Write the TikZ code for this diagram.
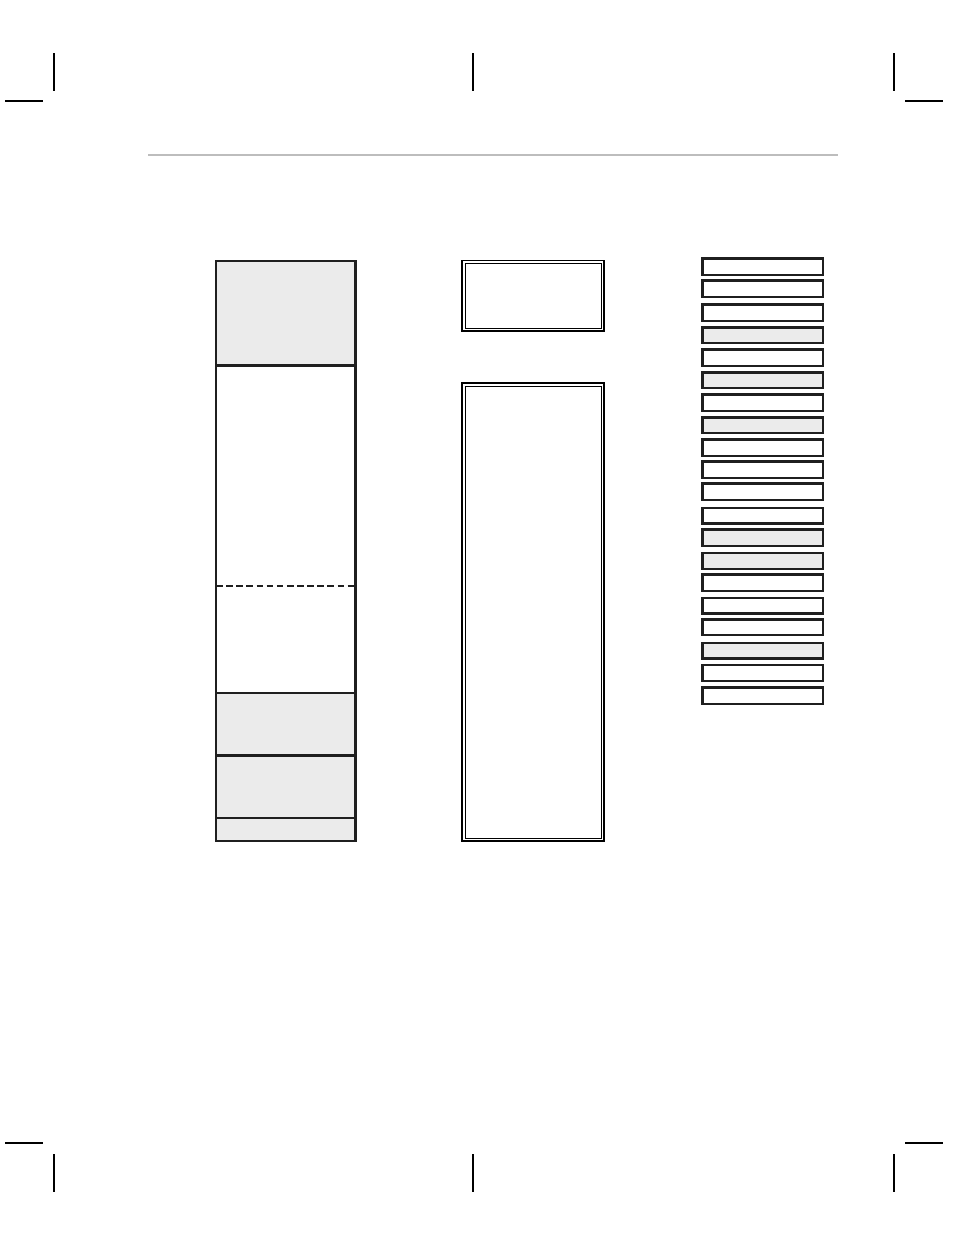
\documentclass[tikz,border=0pt]{standalone}
\usepackage{tikz}
\definecolor{panelgray}{gray}{0.92}
\definecolor{rulegray}{gray}{0.74}
\tikzset{cell/.style={line width=2pt,draw=black!88},
  slot/.style={line width=2pt,draw=black!88},
  slotgray/.style={slot,fill=panelgray},
  frame/.style={line width=1.3pt},
  crop/.style={line width=0.8pt}}

\begin{document}
\begin{tikzpicture}[x=0.75pt,y=-0.75pt,line cap=butt]
  \useasboundingbox (0,0) rectangle (954,1235);

  % crop marks
  \draw [crop] (54,53) -- (54,91);
  \draw [crop] (473,53) -- (473,91);
  \draw [crop] (894,53) -- (894,91);
  \draw [crop] (5,101) -- (43,101);
  \draw [crop] (905,101) -- (943,101);
  \draw [crop] (5,1143) -- (43,1143);
  \draw [crop] (905,1143) -- (943,1143);
  \draw [crop] (54,1154) -- (54,1192);
  \draw [crop] (473,1154) -- (473,1192);
  \draw [crop] (894,1154) -- (894,1192);

  \draw [rulegray, line width=2.2pt] (148,155) -- (838,155);


  % left column
  \fill [panelgray] (216,261) rectangle (355,365);
  \fill [panelgray] (216,693) rectangle (355,841);
  \draw [cell] (216,261) rectangle (355.5,841);
  \draw [cell] (216,365.5) -- (355.5,365.5);
  \draw [cell, line width=1.5pt, dash pattern=on 5pt off 2.6pt] (216,586) -- (355.5,586);
  \draw [cell, line width=1.6pt] (216,693) -- (355.5,693);
  \draw [cell] (216,755.5) -- (355.5,755.5);
  \draw [cell, line width=1.6pt] (216,818) -- (355.5,818);


  % middle frames
  \draw [frame] (462,260.5) rectangle (604,331);
  \draw [thin] (465,263.5) rectangle (601,328);
  \draw [frame] (462,383) rectangle (604,841);
  \draw [thin] (465,386) rectangle (601,838);


  % right stack
  \draw [slot] (702.5,258.5) rectangle (823,275);
  \draw [slot] (702.5,280.5) rectangle (823,297);
  \draw [slot] (702.5,304.5) rectangle (823,321);
  \draw [slotgray] (702.5,327.5) rectangle (823,343);
  \draw [slot] (702.5,349.5) rectangle (823,366);
  \draw [slotgray] (702.5,372.5) rectangle (823,388);
  \draw [slot] (702.5,394.5) rectangle (823,411);
  \draw [slotgray] (702.5,417.5) rectangle (823,433);
  \draw [slot] (702.5,439.5) rectangle (823,456);
  \draw [slot] (702.5,461.5) rectangle (823,478);
  \draw [slot] (702.5,483.5) rectangle (823,500);
  \draw [slot] (702.5,508) rectangle (823,523.5);
  \draw [slotgray] (702.5,529.5) rectangle (823,546);
  \draw [slotgray] (702.5,553) rectangle (823,569);
  \draw [slot] (702.5,574.5) rectangle (823,591);
  \draw [slot] (702.5,598) rectangle (823,613.5);
  \draw [slot] (702.5,619.5) rectangle (823,635);
  \draw [slotgray] (702.5,643) rectangle (823,658.5);
  \draw [slot] (702.5,665) rectangle (823,681);
  \draw [slot] (702.5,687.5) rectangle (823,704);

\end{tikzpicture}
\end{document}
